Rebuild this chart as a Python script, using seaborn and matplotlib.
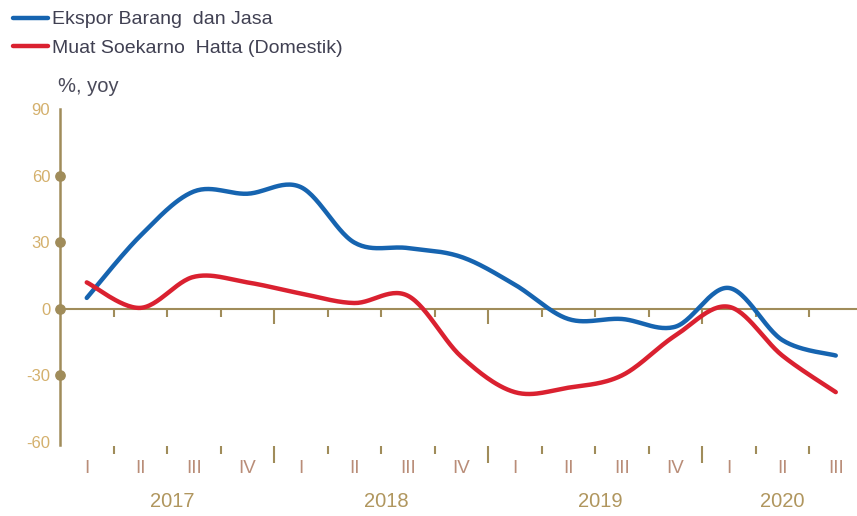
import numpy as np
import pandas as pd
import seaborn as sns
from matplotlib import pyplot as plt

# values, % yoy, quarterly 2017 Q1 .. 2020 Q3
quarters = ["I", "II", "III", "IV", "I", "II", "III", "IV",
            "I", "II", "III", "IV", "I", "II", "III"]
years = ["2017", "2018", "2019", "2020"]
year_pos = [1.6, 5.6, 9.6, 13.0]
ekspor = [5, 33, 53, 52, 55, 30, 27.5, 23.5, 11, -4.5, -4.5, -8, 9.5, -14, -21]
muat = [12, 0.5, 14.5, 12, 7, 2.7, 6, -21.5, -37.5, -35.5, -30, -12, 1, -21, -37.5]

blue = "#1664b0"
red = "#da2130"
gold = "#a08c5a"


def smooth(y, n=30):
    # excel-style smoothed line (catmull-rom as bezier)
    x = np.arange(len(y), dtype=float)
    p = np.column_stack([x, np.asarray(y, dtype=float)])
    out = []
    for i in range(len(p) - 1):
        p0 = p[i - 1] if i > 0 else p[i]
        p1, p2 = p[i], p[i + 1]
        p3 = p[i + 2] if i + 2 < len(p) else p[i + 1]
        c1 = p1 + (p2 - p0) / 6
        c2 = p2 - (p3 - p1) / 6
        t = np.linspace(0, 1, n)[:, None]
        seg = ((1 - t) ** 3) * p1 + 3 * ((1 - t) ** 2) * t * c1 + 3 * (1 - t) * t ** 2 * c2 + t ** 3 * p2
        out.append(seg if i == 0 else seg[1:])
    s = np.vstack(out)
    return s[:, 0], s[:, 1]


sns.set_style("white")
plt.rcParams["font.family"] = ["Liberation Sans", "DejaVu Sans"]
plt.rcParams["axes.unicode_minus"] = False

fig = plt.figure(figsize=(8.57, 5.16), dpi=100)
ax = fig.add_axes([60 / 857, 1 - 442 / 516, 797 / 857, (442 - 109.5) / 516])

names = ["Ekspor Barang  dan Jasa", "Muat Soekarno  Hatta (Domestik)"]
for vals, col, name in [(ekspor, blue, names[0]), (muat, red, names[1])]:
    sx, sy = smooth(vals)
    df = pd.DataFrame({"x": sx, "y": sy})
    sns.lineplot(data=df, x="x", y="y", sort=False, estimator=None, color=col,
                 linewidth=3.2, ax=ax, label=name)

ax.set_xlim(-0.5, 14.397)
ax.set_ylim(-60, 90)
ax.set_xlabel("")
ax.set_ylabel("")

# y axis
ax.set_yticks([-60, -30, 0, 30, 60, 90])
ax.tick_params(axis="y", length=0, pad=7, labelsize=12, labelcolor="#d4b06c")
for s in ["top", "right"]:
    ax.spines[s].set_visible(False)
ax.spines["left"].set_color(gold)
ax.spines["left"].set_linewidth(1.8)
ax.spines["left"].set_bounds(-61.5, 90)
ax.scatter([-0.5] * 4, [60, 30, 0, -30], s=45, color=gold, zorder=5, clip_on=False)

# bottom row of ticks (no line)
bounds = np.arange(0.5, 14, 1.0)
long_b = [3.5, 7.5, 11.5]
short_b = [b for b in bounds if b not in long_b]
ax.spines["bottom"].set_position(("outward", 3))
ax.spines["bottom"].set_visible(False)
ax.set_xticks(long_b)
ax.set_xticks(short_b, minor=True)
ax.set_xticklabels([])
ax.tick_params(axis="x", which="major", direction="out", length=12.5, width=1.5, color=gold, bottom=True)
ax.tick_params(axis="x", which="minor", direction="out", length=6, width=1.5, color=gold, bottom=True)

# zero line with its ticks
zero = ax.secondary_xaxis(60 / 150)
zero.spines["bottom"].set_color(gold)
zero.spines["bottom"].set_linewidth(1.5)
zero.set_xticks(long_b)
zero.set_xticks(short_b, minor=True)
zero.set_xticklabels([])
zero.tick_params(axis="x", which="major", direction="out", length=11, width=1.5, color=gold)
zero.tick_params(axis="x", which="minor", direction="out", length=6, width=1.5, color=gold)

# category labels
tr = ax.get_xaxis_transform()
for i, q in enumerate(quarters):
    ax.text(i, -0.08, q, transform=tr, ha="center", va="center", fontsize=13.5, color="#b98d78")
for p, yr in zip(year_pos, years):
    ax.text(p, -0.18, yr, transform=tr, ha="center", va="center", fontsize=14.5, color="#b0965e")

fig.text(58 / 857, 1 - 87 / 516, "%, yoy", fontsize=14.5, color="#4a4a5a", va="center")

leg = ax.legend(loc="upper left", bbox_to_anchor=(5 / 857, 1 - 3 / 516), bbox_transform=fig.transFigure,
                frameon=False, fontsize=14, handlelength=1.8, handletextpad=0.2, labelspacing=0.55,
                borderaxespad=0)
for t in leg.get_texts():
    t.set_color("#404052")

fig.savefig("out.png", dpi=100)
